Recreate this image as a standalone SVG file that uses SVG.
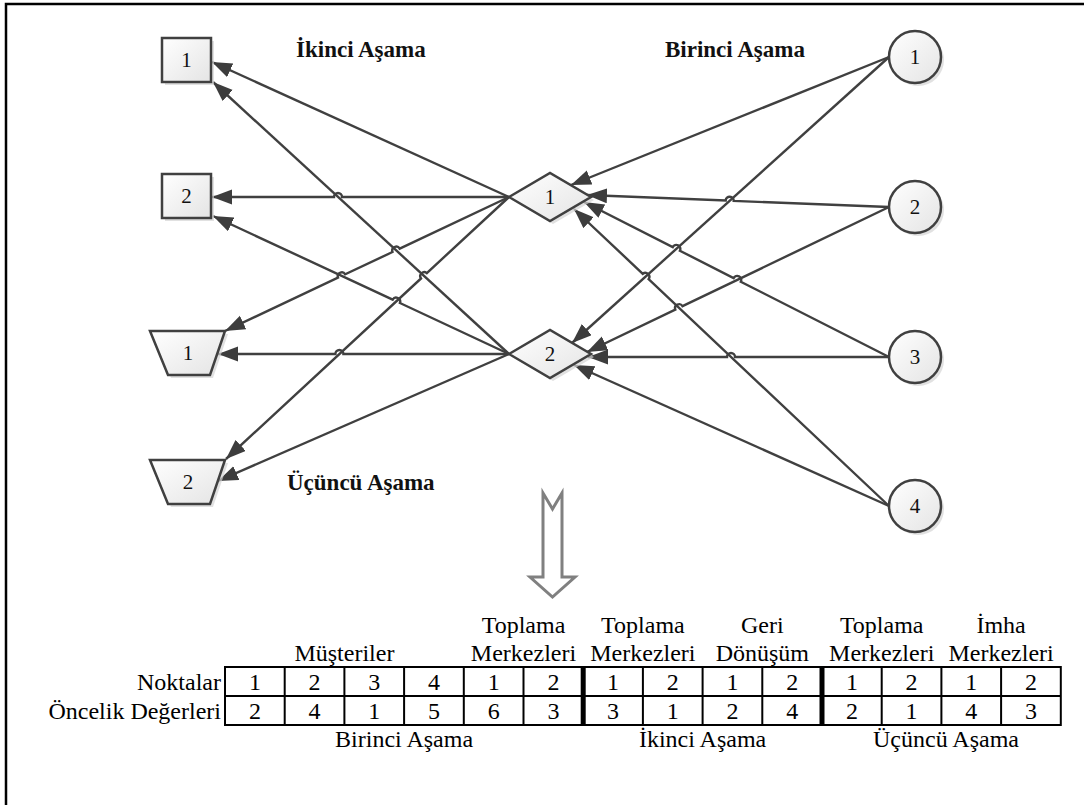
<svg xmlns="http://www.w3.org/2000/svg" width="1084" height="805" viewBox="0 0 1084 805">
  <defs>
    <linearGradient id="nodeFill" x1="0" y1="0" x2="1" y2="1">
      <stop offset="0" stop-color="#ffffff"/>
      <stop offset="1" stop-color="#e4e4e4"/>
    </linearGradient>
    <marker id="arrow" markerUnits="userSpaceOnUse" markerWidth="22" markerHeight="16" refX="20" refY="7.5" orient="auto">
      <path d="M0,0 L20,7.5 L0,15 Z" fill="#3d3d3d"/>
    </marker>
    <style>
      .node { fill: url(#nodeFill); stroke: #404040; stroke-width: 2.5; }
      .shadow { fill: #d4d4d4; stroke: none; opacity: 0.7; }
      .nlabel { font-size: 21px; fill: #111; text-anchor: middle; }
      .title { font-size: 23px; font-weight: bold; fill: #111; }
      .edge { fill: none; stroke: #404040; stroke-width: 2.4; marker-end: url(#arrow); }
      .tbl { font-size: 24px; fill: #000; }
      .mid { text-anchor: middle; }
      .end { text-anchor: end; }
      .grid { fill: none; stroke: #000; stroke-width: 2; }
      .thick { stroke: #000; stroke-width: 5; }
    </style>
  </defs>

  <rect width="1084" height="805" fill="#ffffff"/>
  <!-- frame: only the left and top sides fall inside the canvas -->
  <path d="M6,812 V4 H1090" fill="none" stroke="#000" stroke-width="2.5"/>

  <g font-family="'Liberation Serif', 'Times New Roman', serif">
  <!-- stage titles -->
  <text class="title" x="296" y="57">İkinci Aşama</text>
  <text class="title" x="665" y="57">Birinci Aşama</text>
  <text class="title" x="287" y="490">Üçüncü Aşama</text>

  <!-- connectors -->
  <g id="connectors">
    <!-- from hubs to the left-hand nodes -->
    <path class="edge" d="M509,197 L212,62"/>
    <path class="edge" d="M509,354 L213,82"/>
    <path class="edge" d="M509,197 L342,197 A4,4 0 0 0 334,197 L212,197"/>
    <path class="edge" d="M509,354 L399.9,303 A4,4 0 0 0 392.7,299.6 L213,216"/>
    <path class="edge" d="M509,197 L399.7,248.6 A4,4 0 0 0 392.5,252 L345.2,274.3 A4,4 0 0 0 338,277.7 L225,331"/>
    <path class="edge" d="M509,354 L343.4,354 A4,4 0 0 0 335.4,354 L218,354"/>
    <path class="edge" d="M509,197 L426.8,273.1 A4,4 0 0 0 421,278.5 L226,459"/>
    <path class="edge" d="M509,354 L218,481"/>
    <!-- from the circles to the hubs -->
    <path class="edge" d="M889,57 L571,185"/>
    <path class="edge" d="M889,57 L572,343"/>
    <path class="edge" d="M889,207 L733.7,200.9 A4,4 0 0 0 725.7,200.5 L587,195"/>
    <path class="edge" d="M889,207 L682.5,306.2 A4,4 0 0 0 675.3,309.6 L587,352"/>
    <path class="edge" d="M889,357 L740.8,281.7 A4,4 0 0 0 733.6,278.1 L679.9,250.7 A4,4 0 0 0 672.7,247.1 L584,202"/>
    <path class="edge" d="M889,357 L735,357 A4,4 0 0 0 727,357 L588,357"/>
    <path class="edge" d="M889,506 L648.6,279.2 A4,4 0 0 0 642.8,273.8 L574,209"/>
    <path class="edge" d="M889,506 L574,365"/>
  </g>

  <!-- squares -->
  <g id="square-1">
    <rect class="shadow" x="165" y="41" width="49" height="44"/>
    <rect class="node" x="162" y="38" width="49" height="44"/>
    <text class="nlabel" x="186.5" y="67">1</text>
  </g>
  <g id="square-2">
    <rect class="shadow" x="165" y="177" width="49" height="44"/>
    <rect class="node" x="162" y="174" width="49" height="44"/>
    <text class="nlabel" x="186.5" y="203">2</text>
  </g>

  <!-- trapezoids -->
  <g id="trapezoid-1">
    <polygon class="shadow" points="153,334 228,334 213,378 171,378"/>
    <polygon class="node" points="150,331 225,331 210,375 168,375"/>
    <text class="nlabel" x="188" y="360">1</text>
  </g>
  <g id="trapezoid-2">
    <polygon class="shadow" points="153,463 228,463 213,507 171,507"/>
    <polygon class="node" points="150,460 225,460 210,504 168,504"/>
    <text class="nlabel" x="188" y="489">2</text>
  </g>

  <!-- diamonds -->
  <g id="diamond-1">
    <polygon class="shadow" points="512,200 553,176 594,200 553,224"/>
    <polygon class="node" points="509,197 550,173 591,197 550,221"/>
    <text class="nlabel" x="550" y="204">1</text>
  </g>
  <g id="diamond-2">
    <polygon class="shadow" points="512,357 553,333 594,357 553,381"/>
    <polygon class="node" points="509,354 550,330 591,354 550,378"/>
    <text class="nlabel" x="550" y="361">2</text>
  </g>

  <!-- circles -->
  <g id="circle-1">
    <circle class="shadow" cx="918" cy="60" r="26"/>
    <circle class="node" cx="915" cy="57" r="26"/>
    <text class="nlabel" x="915" y="64">1</text>
  </g>
  <g id="circle-2">
    <circle class="shadow" cx="918" cy="210" r="26"/>
    <circle class="node" cx="915" cy="207" r="26"/>
    <text class="nlabel" x="915" y="214">2</text>
  </g>
  <g id="circle-3">
    <circle class="shadow" cx="918" cy="360" r="26"/>
    <circle class="node" cx="915" cy="357" r="26"/>
    <text class="nlabel" x="915" y="364">3</text>
  </g>
  <g id="circle-4">
    <circle class="shadow" cx="918" cy="509" r="26"/>
    <circle class="node" cx="915" cy="506" r="26"/>
    <text class="nlabel" x="915" y="513">4</text>
  </g>

  <!-- hollow down arrow -->
  <g id="down-arrow">
    <path d="M543,493 L552.5,509 L562,493 L562,577 L575,577 L552.5,597 L530,577 L543,577 Z" fill="#ffffff" stroke="#808080" stroke-width="3" stroke-linejoin="miter"/>
  </g>

  <!-- encoding table -->
  <g id="table">
    <g class="tbl mid">
      <text x="344.4" y="661">Müşteriler</text>
      <text x="523.5" y="633">Toplama</text>
      <text x="523.5" y="661">Merkezleri</text>
      <text x="642.9" y="633">Toplama</text>
      <text x="642.9" y="661">Merkezleri</text>
      <text x="762.3" y="633">Geri</text>
      <text x="762.3" y="661">Dönüşüm</text>
      <text x="881.7" y="633">Toplama</text>
      <text x="881.7" y="661">Merkezleri</text>
      <text x="1001.1" y="633">İmha</text>
      <text x="1001.1" y="661">Merkezleri</text>
    </g>
    <g class="tbl end">
      <text x="221" y="690">Noktalar</text>
      <text x="221" y="719">Öncelik Değerleri</text>
    </g>

    <rect class="grid" x="225" y="667" width="835.8" height="58"/>
    <path class="grid" d="M225,696 H1060.8
      M284.7,667 V725 M344.4,667 V725 M404.1,667 V725 M463.8,667 V725 M523.5,667 V725
      M642.9,667 V725 M702.6,667 V725 M762.3,667 V725
      M881.7,667 V725 M941.4,667 V725 M1001.1,667 V725"/>
    <path class="thick" d="M583.2,666 V726 M822,666 V726"/>

    <g class="tbl mid">
      <text x="254.9" y="690">1</text>
      <text x="314.6" y="690">2</text>
      <text x="374.3" y="690">3</text>
      <text x="434" y="690">4</text>
      <text x="493.7" y="690">1</text>
      <text x="553.4" y="690">2</text>
      <text x="613.1" y="690">1</text>
      <text x="672.8" y="690">2</text>
      <text x="732.5" y="690">1</text>
      <text x="792.2" y="690">2</text>
      <text x="851.9" y="690">1</text>
      <text x="911.6" y="690">2</text>
      <text x="971.3" y="690">1</text>
      <text x="1031" y="690">2</text>

      <text x="254.9" y="719">2</text>
      <text x="314.6" y="719">4</text>
      <text x="374.3" y="719">1</text>
      <text x="434" y="719">5</text>
      <text x="493.7" y="719">6</text>
      <text x="553.4" y="719">3</text>
      <text x="613.1" y="719">3</text>
      <text x="672.8" y="719">1</text>
      <text x="732.5" y="719">2</text>
      <text x="792.2" y="719">4</text>
      <text x="851.9" y="719">2</text>
      <text x="911.6" y="719">1</text>
      <text x="971.3" y="719">4</text>
      <text x="1031" y="719">3</text>

      <text x="404.1" y="747">Birinci Aşama</text>
      <text x="702.6" y="747">İkinci Aşama</text>
      <text x="946" y="747">Üçüncü Aşama</text>
    </g>
  </g>
  </g>
</svg>
